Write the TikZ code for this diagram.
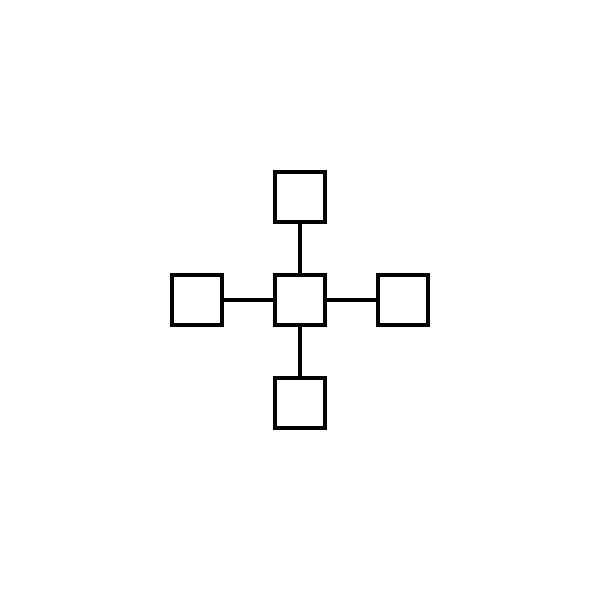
\documentclass[tikz,border=0pt]{standalone}
\usepackage{tikz}

\tikzset{box/.style={draw, line width=0.95pt, minimum size=0.5cm, inner sep=0pt}}

\begin{document}
\begin{tikzpicture}[line width=0.95pt]
\useasboundingbox (-3,-3) rectangle (3,3);
\draw (0,0) node[box] (hub) {};
%
\draw (hub)++(0,1.03) node[box] (top) {};
\path[draw] (hub) -- (top);
%
\draw (hub)++(-1.03,0) node[box] (left) {};
\path[draw] (hub) -- (left);
%
\draw (hub)++(1.03,0) node[box] (right) {};
\path[draw] (hub) -- (right);
%
\draw (hub)++(0,-1.03) node[box] (bottom) {};
\path[draw] (hub) -- (bottom);
\end{tikzpicture}
\end{document}
